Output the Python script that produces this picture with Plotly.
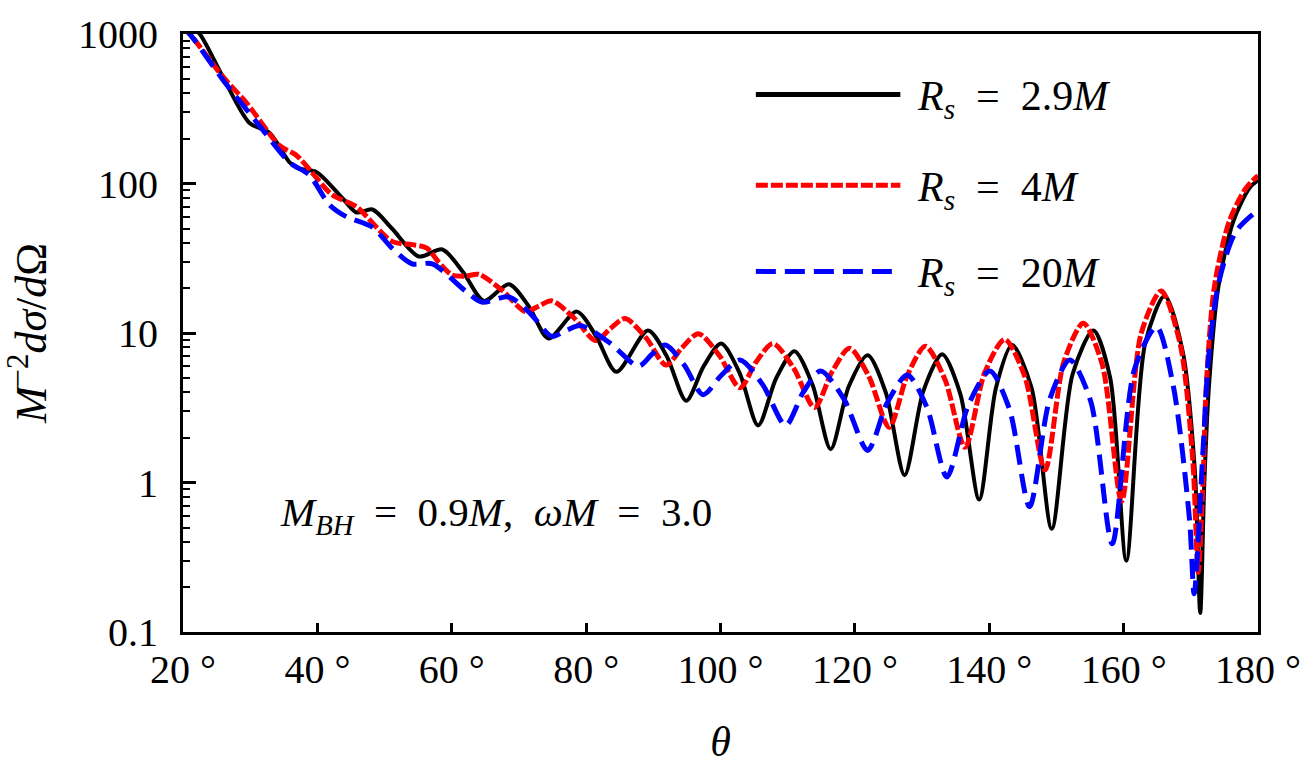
import plotly.graph_objects as go

# ---------------- data ----------------
theta_29 = [20, 21, 22.5, 25.9, 29.9, 32.9, 35.9, 37.3, 39.9, 43.7, 45.8, 48.2, 51.1, 55.1,
            58.6, 61.7, 64.8, 68.5, 71.5, 74.4, 78.6, 81.5, 84.5, 89.2, 92.0, 94.9, 97.5,
            100.1, 102.85, 105.6, 108.3, 111.0, 113.7, 116.4, 119.1, 121.9, 124.6, 127.4,
            130.2, 133.0, 135.7, 138.5, 141.0, 143.4, 146.3, 149.3, 152.4, 155.5, 158.0,
            160.4, 163.2, 166.1, 168.8, 170.6, 171.4, 172.0, 172.7, 174.1, 176.3, 178.7, 180]
dsig_29 = [1300, 1150, 1000, 520, 254, 218, 138, 126, 119, 80, 64, 67, 50, 32.5,
           36.2, 25.5, 16.4, 21.2, 15.0, 9.2, 13.9, 9.5, 5.5, 10.4, 7.0, 3.52, 6.0,
           8.5, 5.4, 2.41, 5.0, 7.55, 4.5, 1.67, 4.4, 7.1, 4.0, 1.12,
           4.1, 7.2, 3.9, 0.77, 4.3, 8.3, 4.3, 0.49, 5.3, 10.4, 5.0,
           0.30, 8.5, 17.7, 7.5, 1.2, 0.134, 0.97, 4.4, 20.3, 55.5, 93, 105]

theta_4 = [20, 21, 25.9, 29.5, 34.4, 36.9, 39.3, 42.2, 45.8, 51.1, 54.1, 56.3, 58.0, 60.0,
           62.0, 64.0, 67.5, 71.0, 72.9, 74.9, 78.2, 81.4, 83.6, 85.8, 88.9, 91.9, 94.3,
           96.7, 99.8, 102.9, 105.3, 107.8, 110.9, 114.0, 116.6, 119.2, 122.1, 125.1,
           127.8, 130.5, 133.4, 136.4, 139.3, 142.3, 145.3, 148.3, 151.1, 154.0, 156.8,
           159.7, 162.6, 165.6, 168.4, 170.3, 171.1, 171.8, 172.3, 173.5, 175.7, 178.2, 180]
dsig_4 = [1100, 1000, 520, 344, 179, 154, 117, 84, 70, 41, 39, 37, 30, 24.5,
          24, 24.7, 19.3, 13.9, 15.1, 16.4, 12.6, 8.9, 10.7, 12.5, 9.3, 6.1, 8.0,
          9.9, 7.1, 4.3, 6.4, 8.5, 5.8, 3.17, 5.5, 7.9, 5.1, 2.34,
          5.2, 8.15, 4.9, 1.72, 5.4, 9.06, 5.1, 1.21, 6.4, 11.6, 6.2,
          0.75, 9.9, 19.1, 8.5, 1.4, 0.25, 0.97, 4.4, 20.3, 55.5, 93, 113]

theta_20 = [20, 21, 25.9, 31.4, 35.9, 38.8, 41.8, 44.3, 48.2, 51.1, 54.1, 57.1, 62.1, 64.5,
            68.5, 71.7, 74.9, 77.0, 79.2, 83.5, 87.8, 89.8, 91.8, 94.6, 97.4, 100.1, 102.9,
            106.3, 109.7, 112.3, 114.9, 118.4, 121.9, 124.8, 127.8, 130.7, 133.7, 136.9,
            140.1, 143.0, 146.0, 149.0, 152.0, 155.1, 158.3, 161.6, 164.9, 167.4, 169.8,
            170.5, 171.8, 172.7, 174.2, 176.7, 180]
dsig_20 = [1100, 1000, 497, 243, 138, 114, 72, 60, 51, 37, 29, 29, 19, 16.1,
           17.4, 13.5, 9.5, 10.4, 11.2, 8.6, 6.0, 7.2, 8.3, 6.1, 3.87, 5.2, 6.6,
           4.5, 2.41, 4.0, 5.56, 3.6, 1.64, 3.4, 5.24, 3.2, 1.09, 3.3,
           5.56, 3.1, 0.69, 3.6, 6.6, 3.5, 0.39, 5.7, 11.0, 4.4, 0.57,
           0.18, 1.6, 7.3, 22.2, 47.6, 66.5]

x_ticks = [20, 40, 60, 80, 100, 120, 140, 160, 180]
x_ticktext = ["20 °", "40 °", "60 °", "80 °", "100 °", "120 °", "140 °", "160 °", "180 °"]
y_ticks = [0.1, 1, 10, 100, 1000]
y_ticktext = ["0.1", "1", "10", "100", "1000"]
y_minor = [m * 10.0 ** e for e in (-1, 0, 1, 2) for m in range(2, 10)]

series_names = ["<i>R<sub>s</sub></i>  =  2.9<i>M</i>",
                "<i>R<sub>s</sub></i>  =  4<i>M</i>",
                "<i>R<sub>s</sub></i>  =  20<i>M</i>"]

FONT = "Liberation Serif"

fig = go.Figure()
fig.add_trace(go.Scatter(x=theta_29, y=dsig_29, mode="lines", name="2.9M",
                         line=dict(color="black", width=4, shape="spline", smoothing=0.8)))
fig.add_trace(go.Scatter(x=theta_4, y=dsig_4, mode="lines", name="4M",
                         line=dict(color="#ff0000", width=5, dash="12px,3px",
                                   shape="spline", smoothing=0.8)))
fig.add_trace(go.Scatter(x=theta_20, y=dsig_20, mode="lines", name="20M",
                         line=dict(color="#0000ff", width=5, dash="20px,9px",
                                   shape="spline", smoothing=0.8)))

# manual legend (long line samples like the reference)
leg_y = [0.899, 0.747, 0.603]
leg_x1 = [0.6673, 0.6673, 0.660]
leg_styles = [dict(color="black", width=5, dash="solid"),
              dict(color="#ff0000", width=5, dash="12px,3px"),
              dict(color="#0000ff", width=5, dash="20px,9px")]
for yy, x1, st, txt in zip(leg_y, leg_x1, leg_styles, series_names):
    fig.add_shape(type="line", xref="paper", yref="paper", x0=0.5329, x1=x1,
                  y0=yy, y1=yy, line=st)
    fig.add_annotation(xref="paper", yref="paper", x=0.681, y=yy - 0.008,
                       xanchor="left", yanchor="middle", showarrow=False,
                       text=txt, font=dict(family=FONT, size=42, color="black"))

fig.add_annotation(xref="paper", yref="paper", x=0.088, y=0.195,
                   xanchor="left", yanchor="middle", showarrow=False,
                   text="<i>M<sub>BH</sub></i>  =  0.9<i>M</i>,  <i>ωM</i>  =  3.0",
                   font=dict(family=FONT, size=41, color="black"))

fig.update_layout(
    width=1313, height=773,
    margin=dict(l=183, r=51, t=27, b=141),
    paper_bgcolor="white", plot_bgcolor="white",
    showlegend=False,
    font=dict(family=FONT, color="black"),
)
fig.update_xaxes(
    range=[20, 180], tickvals=x_ticks, ticktext=x_ticktext,
    ticks="inside", ticklen=9, tickwidth=2.5, tickcolor="black",
    showline=True, linewidth=3, linecolor="black", mirror=True,
    showgrid=False, zeroline=False, ticklabelstandoff=0,
    tickfont=dict(family=FONT, size=40, color="black"),
    title=dict(text="<i>θ</i>", font=dict(family=FONT, size=42, color="black"), standoff=36),
)
fig.update_yaxes(
    type="log", range=[-1, 3], tickvals=y_ticks, ticktext=y_ticktext,
    ticks="inside", ticklen=13, tickwidth=2.5, tickcolor="black",
    minor=dict(tickvals=y_minor, ticks="inside", ticklen=7, tickwidth=2, tickcolor="black"),
    showline=True, linewidth=3, linecolor="black", mirror=True,
    showgrid=False, zeroline=False, ticklabelstandoff=14,
    tickfont=dict(family=FONT, size=40, color="black"),
    title=dict(text="<i>M</i><sup>−2</sup><i>dσ</i>/<i>d</i>Ω",
               font=dict(family=FONT, size=44, color="black"), standoff=18),
)

fig.write_html("out.html")
